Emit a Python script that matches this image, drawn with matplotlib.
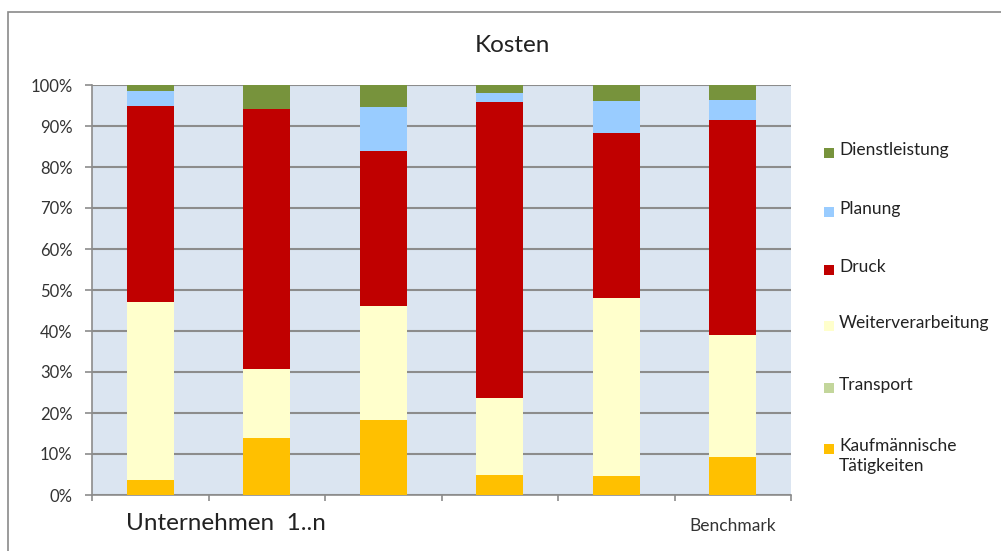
import matplotlib
matplotlib.use("Agg")
import matplotlib.pyplot as plt
from matplotlib.patches import Rectangle
import numpy as np

plt.rcParams['font.family'] = ['Lato', 'DejaVu Sans']

# Data (percent shares per company)
n_bars = 6
kaufm = [3.7, 13.8, 18.4, 5.0, 4.6, 9.2]
transport = [0, 0, 0, 0, 0, 0]
weiter = [43.3, 16.9, 27.7, 18.6, 43.4, 29.8]
druck = [48.0, 63.5, 37.8, 72.3, 40.3, 52.4]
planung = [3.5, 0.0, 10.7, 2.2, 7.7, 4.9]
dienst = [1.5, 5.8, 5.4, 1.9, 4.0, 3.7]

series_names = ["Kaufmännische\nTätigkeiten", "Transport", "Weiterverarbeitung",
                "Druck", "Planung", "Dienstleistung"]
series_values = [kaufm, transport, weiter, druck, planung, dienst]
series_colors = ["#FFC000", "#C3D69B", "#FFFFCC", "#C00000", "#99CCFF", "#77933C"]

title = "Kosten"
yticks = [0, 10, 20, 30, 40, 50, 60, 70, 80, 90, 100]
ytick_labels = [f"{v}%" for v in yticks]

fig = plt.figure(figsize=(10.01, 5.51), dpi=100)
fig.patch.set_facecolor("white")

# outer chart frame
fig.patches.append(Rectangle((8/1001, -0.1), 1.2, (551-12)/551 + 0.1,
                             transform=fig.transFigure, fill=False,
                             edgecolor="#8a8a8a", linewidth=1.2))

ax = fig.add_axes([92/1001, 1-495/551, (791-92)/1001, (495-85)/551])
ax.set_facecolor("#DBE5F1")

x = np.arange(n_bars)
bottom = np.zeros(n_bars)
for vals, col in zip(series_values, series_colors):
    v = np.array(vals, dtype=float)
    ax.bar(x, v, bottom=bottom, width=0.4, color=col, zorder=3, linewidth=0)
    bottom += v

ax.set_xlim(-0.5, n_bars - 0.5)
ax.set_ylim(0, 100)
ax.set_yticks(yticks)
ax.set_yticklabels(ytick_labels, fontsize=12, color="#333333")
ax.yaxis.grid(True, color="#8c8c8c", linewidth=1.5, zorder=1)
ax.set_axisbelow(True)

ax.set_xticks(np.arange(n_bars + 1) - 0.5)
ax.set_xticklabels([])
ax.tick_params(axis='x', length=4, color="#8c8c8c", width=1.2)
ax.tick_params(axis='y', length=5, color="#8c8c8c", width=1.2, pad=9)

for s in ["top", "right"]:
    ax.spines[s].set_visible(False)
for s in ["left", "bottom"]:
    ax.spines[s].set_color("#8c8c8c")
    ax.spines[s].set_linewidth(1.2)

# category labels
ax.text(-0.21, -6.9, "Unternehmen  1..n", fontsize=17.5, color="#222222",
        ha="left", va="center", clip_on=False)
ax.text(5, -7.6, "Benchmark", fontsize=12.5, color="#333333",
        ha="center", va="center", clip_on=False)

fig.text(512/1001, 1-46/551, title, fontsize=17.5, ha="center", va="center", color="#222222")

# legend (manual, top = Dienstleistung)
leg_y = [153, 212, 270, 326, 388, 449]
for name, col, yy in zip(series_names[::-1], series_colors[::-1], leg_y):
    fig.patches.append(Rectangle((824/1001, 1-(yy+5)/551), 10/1001, 10/551,
                                 transform=fig.transFigure, facecolor=col,
                                 edgecolor="none"))
    fig.text(839/1001, 1-(yy-11)/551, name, fontsize=12.5, ha="left", va="top",
             color="#222222", linespacing=1.3)

fig.savefig("out.png", dpi=100)
